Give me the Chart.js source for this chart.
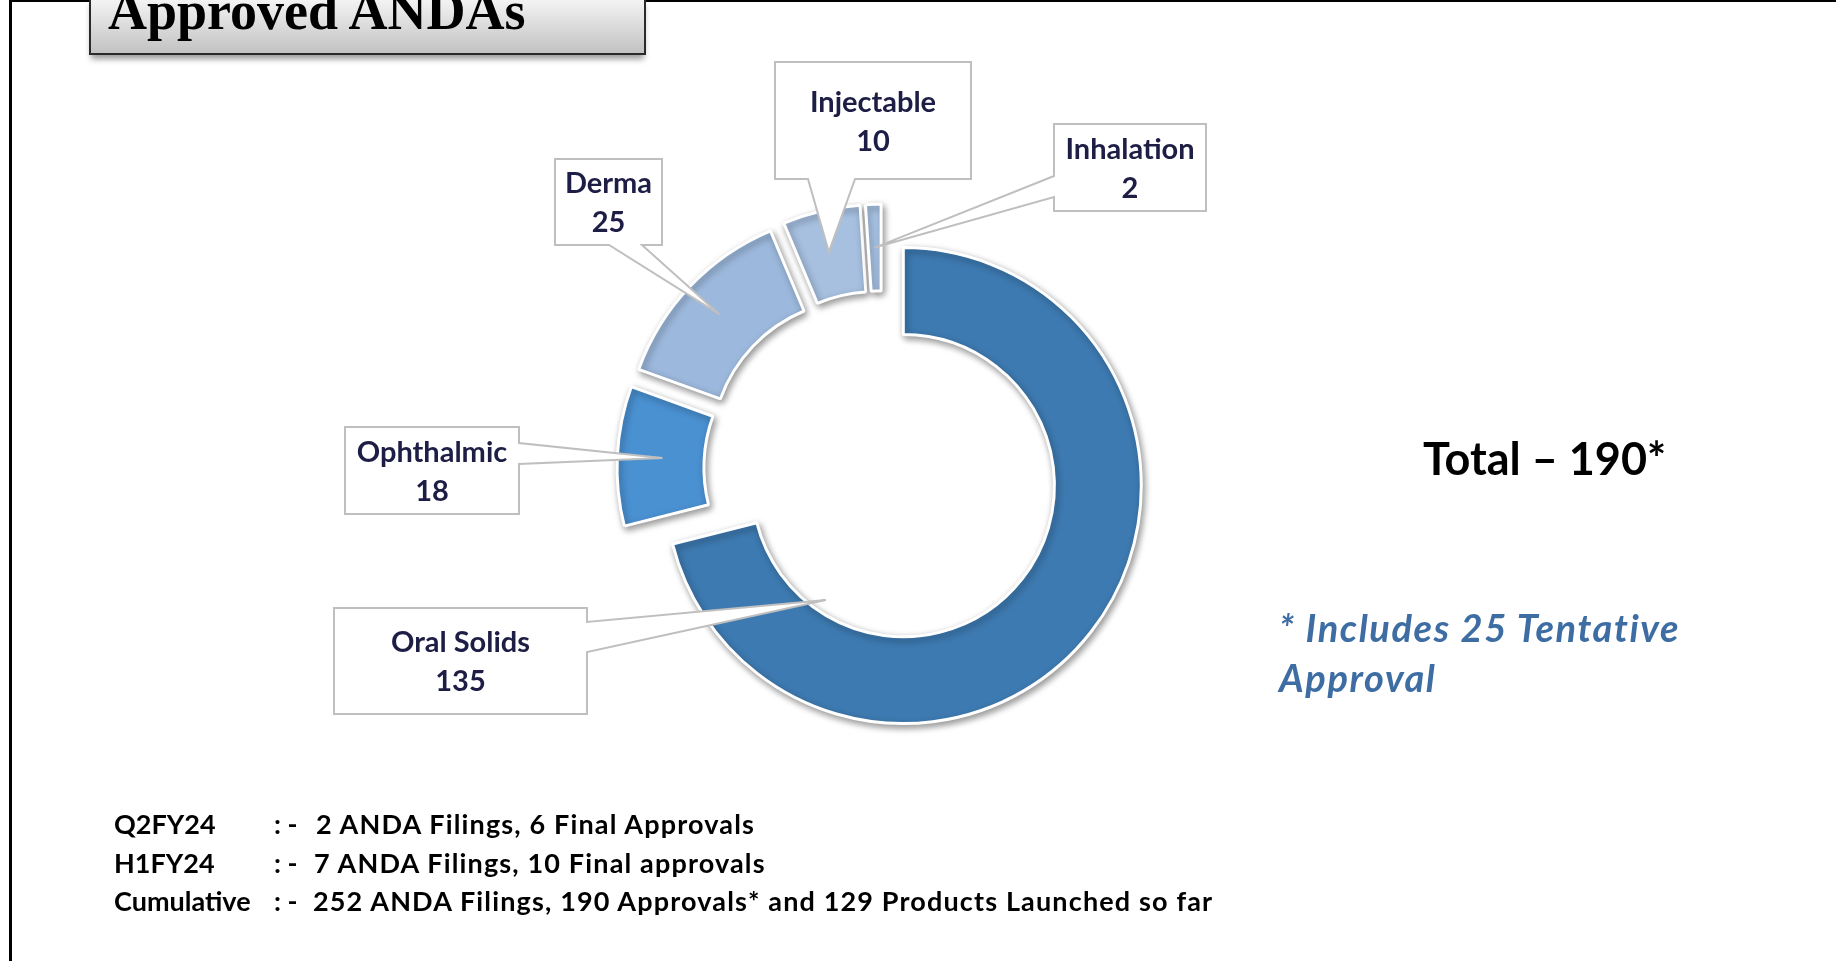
<!DOCTYPE html>
<html>
<head>
<meta charset="utf-8">
<title>Approved ANDAs</title>
<script src="https://cdn.jsdelivr.net/npm/chart.js@4.4.0/dist/chart.umd.min.js"></script>
<style>
  html, body { margin: 0; padding: 0; background: #fff; }
  body { width: 1836px; height: 961px; position: relative; overflow: hidden; font-family: Lato, "Open Sans", sans-serif; }
  #frame { position: absolute; left: 9px; top: 0; width: 1900px; height: 1000px; border-left: 3px solid #000; border-top: 2px solid #000; }
  #chart { position: absolute; left: 0; top: 0; }
  #titleBox {
    position: absolute; left: 89px; top: -3px; width: 553px; height: 54px;
    border: 2px solid #2a2a2a; background: linear-gradient(#f4f4f4, #c2c2c2);
    box-shadow: 0 6px 6px -2px rgba(0,0,0,0.4); z-index: 2;
  }
  #titleText {
    position: absolute; left: 108px; top: -15px; line-height: 53px; z-index: 3;
    font-family: "Liberation Serif", serif; font-weight: bold; font-size: 54px; color: #000; white-space: nowrap;
  }
  .txt { position: absolute; white-space: nowrap; line-height: 1.2; font-weight: bold; }
  #total { left: 1423px; top: 431px; font-size: 45px; color: #000; }
  #note { left: 1279px; top: 602px; font-size: 38px; line-height: 50px; letter-spacing: 1.6px; font-style: italic; color: #3d6da3; }
  .row { font-size: 27px; color: #000; }
  .wide { letter-spacing: 1.15px; }
</style>
</head>
<body>
<div id="frame"></div>
<canvas id="chart" width="1836" height="961"></canvas>
<div id="titleBox"></div>
<div id="titleText">Approved ANDAs</div>
<div id="total" class="txt">Total – 190*</div>
<div id="note" class="txt">* Includes 25 Tentative<br>Approval</div>
<div class="txt row" style="left:114px;top:808px">Q2FY24</div>
<div class="txt row" style="left:274px;top:808px">: -</div>
<div class="txt row wide" style="left:316px;top:808px">2 ANDA Filings, 6 Final Approvals</div>
<div class="txt row" style="left:114px;top:847px">H1FY24</div>
<div class="txt row" style="left:274px;top:847px">: -</div>
<div class="txt row wide" style="left:314px;top:847px">7 ANDA Filings, 10 Final approvals</div>
<div class="txt row" style="left:114px;top:885px">Cumulative</div>
<div class="txt row" style="left:274px;top:885px">: -</div>
<div class="txt row wide" style="left:313px;top:885px">252 ANDA Filings, 190 Approvals* and 129 Products Launched so far</div>
<script>
const categories = ['Oral Solids', 'Ophthalmic', 'Derma', 'Injectable', 'Inhalation'];
const approvals = [135, 18, 25, 10, 2];
const sliceColors = ['#3d7ab1', '#4a91d2', '#9cb8dc', '#a7c0e0', '#a9c4e6'];

// callout boxes: [left, top, right, bottom], side the pointer leaves from,
// the two base points on that side, and where on the slice it points (angle frac, ring frac)
const callouts = [
  { box: [334, 608, 587, 714], side: 'right', base: [622, 652], at: [0.837, -0.15] },
  { box: [345, 427, 519, 514], side: 'right', base: [443, 464], at: [0.5, 0.48] },
  { box: [555, 159, 662, 245], side: 'bottom', base: [609, 642], at: [0.5, 0.53] },
  { box: [775, 62, 971, 179], side: 'bottom', base: [808, 855], at: [0.47, 0.52] },
  { box: [1054, 124, 1206, 211], side: 'left', base: [176, 197], at: [0.5, 0.5] }
];

function calloutPath(ctx, c, tip) {
  const [x0, y0, x1, y1] = c.box;
  const [p0, p1] = c.base;
  ctx.beginPath();
  ctx.moveTo(x0, y0);
  ctx.lineTo(x1, y0);
  if (c.side === 'right') { ctx.lineTo(x1, p0); ctx.lineTo(tip.x, tip.y); ctx.lineTo(x1, p1); }
  ctx.lineTo(x1, y1);
  if (c.side === 'bottom') { ctx.lineTo(p1, y1); ctx.lineTo(tip.x, tip.y); ctx.lineTo(p0, y1); }
  ctx.lineTo(x0, y1);
  if (c.side === 'left') { ctx.lineTo(x0, p1); ctx.lineTo(tip.x, tip.y); ctx.lineTo(x0, p0); }
  ctx.closePath();
}

const explode = {
  id: 'explode',
  afterDatasetsUpdate(chart, args, opts) {
    chart.getDatasetMeta(0).data.forEach(arc => {
      const mid = (arc.startAngle + arc.endAngle) / 2;
      arc.x += Math.cos(mid) * opts.distance;
      arc.y += Math.sin(mid) * opts.distance;
    });
  },
  beforeDatasetsDraw(chart) {
    const ctx = chart.ctx;
    ctx.save();
    ctx.shadowColor = 'rgba(0,0,0,0.4)';
    ctx.shadowBlur = 7;
    ctx.shadowOffsetX = 2;
    ctx.shadowOffsetY = 3;
  },
  afterDatasetsDraw(chart) {
    const ctx = chart.ctx;
    ctx.restore();
    const arcs = chart.getDatasetMeta(0).data;
    callouts.forEach((c, i) => {
      const arc = arcs[i];
      const a = arc.startAngle + c.at[0] * (arc.endAngle - arc.startAngle);
      const r = arc.innerRadius + c.at[1] * (arc.outerRadius - arc.innerRadius);
      const tip = { x: arc.x + Math.cos(a) * r, y: arc.y + Math.sin(a) * r };
      ctx.save();
      calloutPath(ctx, c, tip);
      ctx.fillStyle = '#fff';
      ctx.fill();
      ctx.lineWidth = 2;
      ctx.strokeStyle = '#bfbfbf';
      ctx.stroke();
      const cx = (c.box[0] + c.box[2]) / 2;
      const cy = (c.box[1] + c.box[3]) / 2;
      ctx.fillStyle = '#1d1d45';
      ctx.font = 'bold 29px Lato';
      ctx.textAlign = 'center';
      ctx.textBaseline = 'middle';
      ctx.fillText(categories[i], cx, cy - 18);
      ctx.fillText(String(approvals[i]), cx, cy + 21);
      ctx.restore();
    });
  }
};

const anda = new Chart(document.getElementById('chart'), {
  type: 'doughnut',
  data: {
    labels: categories,
    datasets: [{
      data: approvals,
      backgroundColor: sliceColors,
      borderColor: '#ffffff',
      borderWidth: 3,
      hoverOffset: 0
    }]
  },
  options: {
    responsive: false,
    animation: false,
    radius: 238,
    cutout: '63.5%',
    layout: { padding: { left: 602, right: 674, top: 189, bottom: 212 } },
    events: [],
    plugins: {
      legend: { display: false },
      tooltip: { enabled: false },
      explode: { distance: 27 }
    }
  },
  plugins: [explode]
});
</script>
</body>
</html>
